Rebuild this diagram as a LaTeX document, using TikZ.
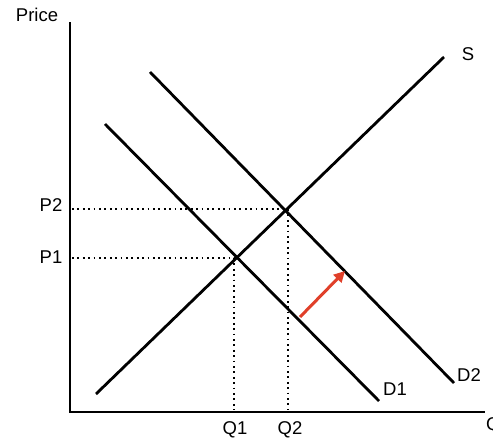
\documentclass[tikz,border=0pt]{standalone}
\usepackage{fontspec}
\setmainfont{Liberation Sans}
\usetikzlibrary{arrows.meta}
\begin{document}
\begin{tikzpicture}[x=1pt,y=-1pt,
  curve/.style={line width=2.8pt},
  axis/.style={line width=2.8pt},
  guide/.style={line width=1.8pt, dash pattern=on 1.8pt off 3.6pt},
  lbl/.style={font=\fontsize{18.5}{22}\selectfont, inner sep=0pt},
  shiftarrow/.style={line width=3pt, color=shiftred, -{Triangle[length=11pt,width=11pt]}}]
\definecolor{shiftred}{HTML}{E0402A}
\useasboundingbox (0,0) rectangle (493,439);
% axes
\coordinate (origin) at (70,412);
\coordinate (ytop) at (70,22);
\coordinate (xend) at (485,412);
\draw[axis] (ytop) -- (origin) -- (xend);
% curves
\coordinate (s0) at (96,394);
\coordinate (s1) at (444,57);
\coordinate (d10) at (105,124);
\coordinate (d11) at (379,401);
\coordinate (d20) at (150,72);
\coordinate (d21) at (454,383);
\draw[curve] (s0) -- (s1);
\draw[curve] (d10) -- (d11);
\draw[curve] (d20) -- (d21);
% equilibria
\coordinate (e1) at (234,258);
\coordinate (e2) at (288,209);
\coordinate (p1) at (72,258);
\coordinate (p2) at (72,209);
\coordinate (q1) at (234,410);
\coordinate (q2) at (288,410);
\draw[guide] (p1) -- (e1) -- (q1);
\draw[guide] (p2) -- (e2) -- (q2);
% shift arrow
\coordinate (a0) at (300,317);
\coordinate (a1) at (345,271);
\draw[shiftarrow] (a0) -- (a1);
% labels
\node[lbl] (price) at (37,15) {Price};
\node[lbl] (lp2) at (51,205) {P2};
\node[lbl] (lp1) at (51,257) {P1};
\node[lbl] (lq1) at (235,430) {Q1};
\node[lbl] (lq2) at (290,430) {Q2};
\node[lbl] (ls) at (468,54) {S};
\node[lbl] (ld1) at (395,389) {D1};
\node[lbl] (ld2) at (469,375) {D2};
\node[lbl, anchor=west] (lq) at (486,426) {Quantity};
\end{tikzpicture}
\end{document}
